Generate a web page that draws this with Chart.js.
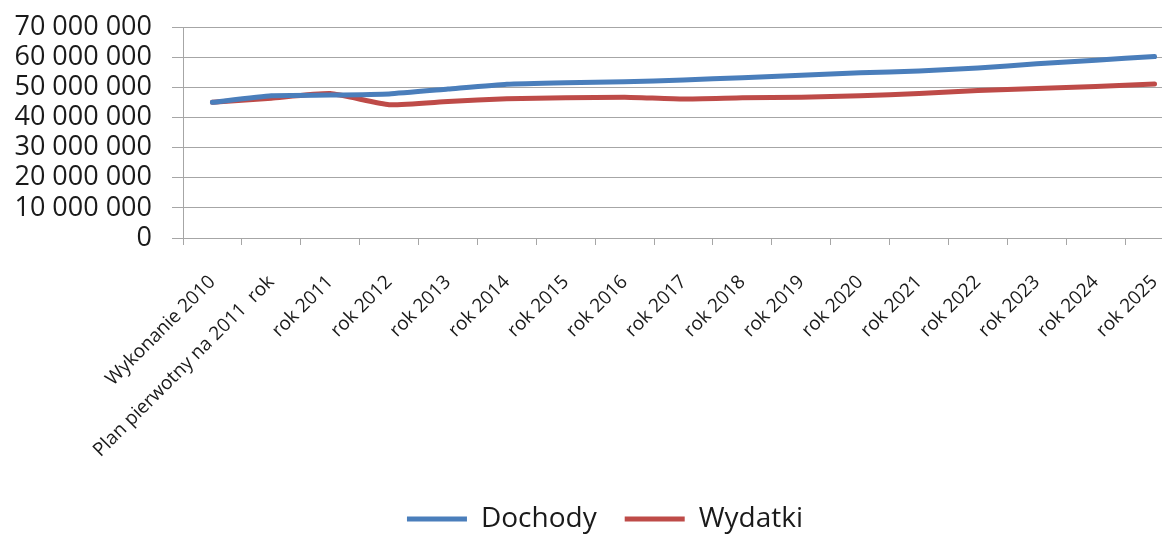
<!DOCTYPE html>
<html>
<head>
<meta charset="utf-8">
<script src="https://cdn.jsdelivr.net/npm/chart.js@4"></script>
<style>
  html, body { margin: 0; padding: 0; background: #fff; overflow: hidden; }
  #wrap { position: relative; width: 1210px; height: 534px; }
</style>
</head>
<body>
<div id="wrap"><canvas id="chart"></canvas></div>
<script>
/* ---- Data ---- */
const categories = [
  'Wykonanie 2010', 'Plan pierwotny na 2011  rok', 'rok 2011', 'rok 2012', 'rok 2013',
  'rok 2014', 'rok 2015', 'rok 2016', 'rok 2017', 'rok 2018', 'rok 2019', 'rok 2020',
  'rok 2021', 'rok 2022', 'rok 2023', 'rok 2024', 'rok 2025'
];
const dochody = [
  45000000, 47200000, 47400000, 47800000, 49400000, 51000000, 51500000, 51800000, 52400000,
  53200000, 54000000, 54800000, 55400000, 56400000, 57800000, 59000000, 60200000
];
const wydatki = [
  45000000, 46400000, 47900000, 44200000, 45300000, 46200000, 46500000, 46700000, 46100000,
  46500000, 46700000, 47200000, 47900000, 48900000, 49600000, 50300000, 51100000
];
const yMin  = 0;
const yMax  = 70000000;
const yStep = 10000000;

const FONT  = '"Open Sans", "DejaVu Sans", sans-serif';
const GRID  = '#a6a6a6';
const TEXT  = '#1a1a1a';

function fmt(v) {
  return String(v).replace(/\B(?=(\d{3})+(?!\d))/g, ' ');
}

new Chart(document.getElementById('chart'), {
  type: 'line',
  data: {
    labels: categories,
    datasets: [
      {
        label: 'Dochody',
        data: dochody,
        borderColor: '#4a7ebb',
        backgroundColor: '#4a7ebb',
        borderWidth: 5,
        borderCapStyle: 'round',
        borderJoinStyle: 'round',
        pointRadius: 0,
        tension: 0.15,
      },
      {
        label: 'Wydatki',
        data: wydatki,
        borderColor: '#be4b48',
        backgroundColor: '#be4b48',
        borderWidth: 5,
        borderCapStyle: 'round',
        borderJoinStyle: 'round',
        pointRadius: 0,
        tension: 0.15,
      },
    ],
  },
  options: {
    responsive: true,
    maintainAspectRatio: false,
    animation: false,
    layout: { padding: { top: 27, right: 0, left: 0, bottom: -9 } },
    plugins: {
      tooltip: { enabled: false },
      legend: {
        position: 'bottom',
        labels: {
          usePointStyle: true,
          pointStyle: 'line',
          pointStyleWidth: 60,
          padding: 28,
          color: TEXT,
          font: { family: FONT, size: 28 },
        },
      },
    },
    scales: {
      x: {
        offset: true,
        grid: { display: true, drawOnChartArea: false, drawTicks: true, tickLength: 7, offset: true, color: GRID },
        border: { display: true, color: GRID },
        ticks: {
          autoSkip: false,
          minRotation: 45,
          maxRotation: 45,
          padding: 26,
          color: TEXT,
          font: { family: FONT, size: 19 },
        },
        afterFit: s => { s.height = 239; s.paddingLeft = 0; s.paddingRight = 0; },
      },
      y: {
        min: yMin,
        max: yMax,
        grid: { color: GRID, tickLength: 11, drawTicks: true },
        border: { display: true, color: GRID },
        ticks: {
          autoSkip: false,
          stepSize: yStep,
          padding: 20,
          color: TEXT,
          font: { family: FONT, size: 27 },
          callback: v => fmt(v),
        },
        afterFit: s => { s.width = 183; s.paddingTop = 0; s.paddingBottom = 0; },
      },
      // empty right axis, only keeps room on the right side of the plot
      yRight: {
        position: 'right',
        min: yMin,
        max: yMax,
        grid: { display: false, drawOnChartArea: false },
        border: { display: false },
        ticks: { display: false },
        afterFit: s => { s.width = 26; s.paddingTop = 0; s.paddingBottom = 0; },
      },
    },
  },
});
</script>
</body>
</html>
